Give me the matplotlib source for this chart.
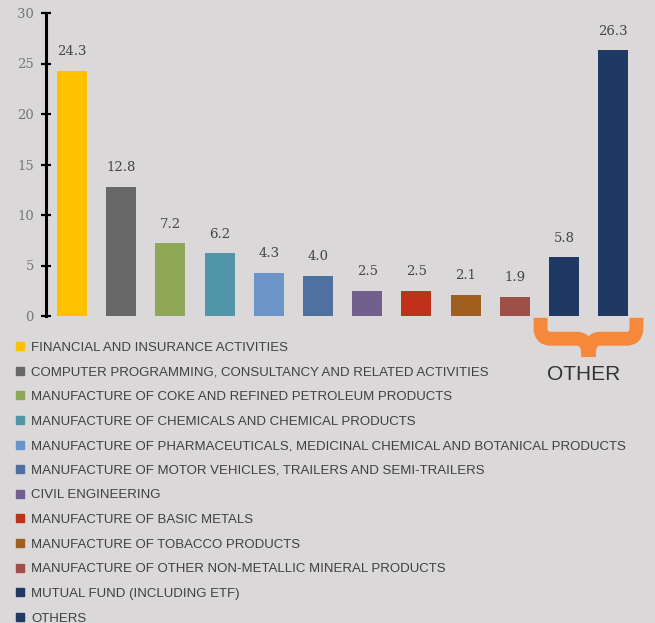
import matplotlib
matplotlib.use("Agg")
import matplotlib.pyplot as plt
from matplotlib.lines import Line2D
from matplotlib.path import Path
from matplotlib.patches import PathPatch
from matplotlib.transforms import blended_transform_factory

# sector shares (%)
sectors = [
    "FINANCIAL AND INSURANCE ACTIVITIES",
    "COMPUTER PROGRAMMING, CONSULTANCY AND RELATED ACTIVITIES",
    "MANUFACTURE OF COKE AND REFINED PETROLEUM PRODUCTS",
    "MANUFACTURE OF CHEMICALS AND CHEMICAL PRODUCTS",
    "MANUFACTURE OF PHARMACEUTICALS, MEDICINAL CHEMICAL AND BOTANICAL PRODUCTS",
    "MANUFACTURE OF MOTOR VEHICLES, TRAILERS AND SEMI-TRAILERS",
    "CIVIL ENGINEERING",
    "MANUFACTURE OF BASIC METALS",
    "MANUFACTURE OF TOBACCO PRODUCTS",
    "MANUFACTURE OF OTHER NON-METALLIC MINERAL PRODUCTS",
    "MUTUAL FUND (INCLUDING ETF)",
    "OTHERS",
]
values = [24.3, 12.8, 7.2, 6.2, 4.3, 4.0, 2.5, 2.5, 2.1, 1.9, 5.8, 26.3]
colors = ["#FFC000", "#676767", "#8FA858", "#5096A8", "#6B95C8", "#4E71A0",
          "#735F8D", "#C0311C", "#A05E1F", "#9E4F48", "#1F3864", "#1F3864"]
yticks = [0, 5, 10, 15, 20, 25, 30]
group_label = "OTHER"
group_idx = [10, 11]

bg = "#DAD8D9"
bar_w = 0.61

fig = plt.figure(figsize=(6.55, 6.23), dpi=100, facecolor=bg)
ax = fig.add_axes([46 / 655, 1 - 316 / 623, 604 / 655, 303 / 623])
ax.set_facecolor(bg)

x = list(range(len(values)))
ax.bar(x, values, width=bar_w, color=colors)

for xi, v in zip(x, values):
    ax.annotate(f"{v:.1f}", (xi, v), xytext=(0, 9), textcoords="offset points",
                ha="center", va="bottom", fontsize=9.5, family="DejaVu Serif",
                color="#444444")

ax.set_xlim(-0.53, 11.75)
ax.set_ylim(0, 30)
ax.set_yticks(yticks)
ax.set_xticks([])
for s in ["top", "right", "bottom"]:
    ax.spines[s].set_visible(False)
ax.spines["left"].set_linewidth(2.2)
ax.spines["left"].set_color("black")
ax.tick_params(axis="y", direction="inout", length=7.5, width=1.6, pad=5,
               labelsize=9.5, labelcolor="#777777")
for lab in ax.get_yticklabels():
    lab.set_family("DejaVu Serif")

# curly brace under the "other" group
trans = blended_transform_factory(ax.transData, ax.transAxes)
xl = group_idx[0] - bar_w / 2 - 0.17
xr = group_idx[-1] + bar_w / 2 + 0.17
xc = (group_idx[0] + group_idx[-1]) / 2
y0, yh, ytip = -0.006, -0.075, -0.135
rx, ry = 0.2, 0.035
verts = [
    (xl, y0), (xl, yh + ry), (xl, yh), (xl + rx, yh), (xc - 0.24, yh), (xc, yh), (xc, ytip),
    (xr, y0), (xr, yh + ry), (xr, yh), (xr - rx, yh), (xc + 0.24, yh), (xc, yh), (xc, ytip),
]
codes = [Path.MOVETO, Path.LINETO, Path.CURVE3, Path.CURVE3, Path.LINETO, Path.CURVE3, Path.CURVE3] * 2
brace = PathPatch(Path(verts, codes), facecolor="none", edgecolor="#F5883A",
                  linewidth=10, capstyle="butt", joinstyle="round",
                  transform=trans, clip_on=False)
ax.add_patch(brace)
ax.text(xc - 0.1, -0.192, group_label, transform=trans, ha="center", va="center",
        fontsize=15, family="Liberation Sans", color="#333333")

handles = [Line2D([], [], marker="s", linestyle="none", markersize=6,
                  markerfacecolor=c, markeredgecolor=c) for c in colors]
fig.legend(handles, sectors, loc="upper left", bbox_to_anchor=(0.024, 0.452),
           frameon=False, borderpad=0, borderaxespad=0, handlelength=0.7,
           handletextpad=0.45, labelspacing=0.94,
           prop={"family": "Liberation Sans", "size": 9.5}, labelcolor="#404040")

fig.savefig("out.png", dpi=100, facecolor=bg)
